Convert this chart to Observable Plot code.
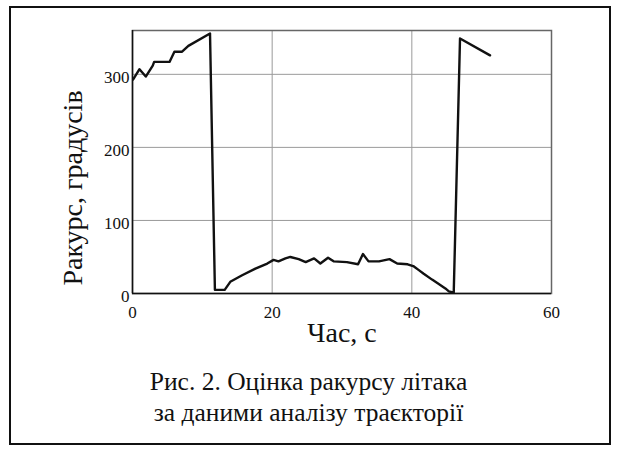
<!DOCTYPE html>
<html>
<head>
<meta charset="utf-8">
<script src="https://cdn.jsdelivr.net/npm/d3@7"></script>
<script src="https://cdn.jsdelivr.net/npm/@observablehq/plot@0.6"></script>
<style>
  html, body { margin: 0; padding: 0; background: #fff; }
  body { width: 617px; height: 453px; position: relative; overflow: hidden; font-family: "Liberation Serif", "Times New Roman", serif; }
  #frame { position: absolute; left: 9px; top: 6px; width: 602px; height: 439px; border: 2px solid #111; box-sizing: border-box; }
  #chart { position: absolute; left: 0; top: 0; }
  #caption { position: absolute; left: 0; width: 617px; top: 366px; text-align: center; font-size: 25.5px; line-height: 31px; color: #111; }
</style>
</head>
<body>
<div id="frame"></div>
<div id="chart"></div>
<div id="caption">Рис. 2. Оцінка ракурсу літака<br>за даними аналізу траєкторії</div>
<script>
const time   = [0.1, 1.0, 1.9, 2.9, 3.1, 5.3, 6.0, 7.1, 8.0, 11.1, 11.8, 13.2, 14.0, 15.7, 17.6, 19.3, 20.2, 20.9, 21.9, 22.6, 23.8, 24.8, 26.0, 26.9, 28.0, 28.8, 30.7, 32.3, 33.0, 33.8, 35.3, 36.8, 37.9, 39.4, 40.3, 41.0, 41.7, 42.9, 43.7, 44.8, 45.3, 46.0, 46.9, 51.2];
const angle  = [293, 307, 297, 312, 317, 317, 331, 331, 339, 356, 5, 5, 16, 25, 34, 41, 46, 44, 48, 50, 47, 43, 48, 41, 49, 44, 43, 40, 54, 44, 44, 47, 41, 40, 37, 32, 27, 19, 14, 7, 3, 1, 349, 326];
const xTicks = [0, 20, 40, 60];
const yTicks = [0, 100, 200, 300];
const xLabel = "Час, с";
const yLabel = "Ракурс, градусів";

const data = time.map((t, i) => ({t, v: angle[i]}));
const font = "Liberation Serif";

const chart = Plot.plot({
  width: 617,
  height: 360,
  marginLeft: 132,
  marginRight: 66,
  marginTop: 30,
  marginBottom: 67,
  style: {fontFamily: font, background: "transparent", color: "#111"},
  x: {domain: [0, 60]},
  y: {domain: [0, 360]},
  marks: [
    Plot.gridX([20, 40], {stroke: "#9a9a9a", strokeOpacity: 1}),
    Plot.gridY([100, 200, 300], {stroke: "#9a9a9a", strokeOpacity: 1}),
    Plot.frame({stroke: "#666", strokeWidth: 1.5}),
    Plot.ruleX([0], {stroke: "#111", strokeWidth: 1.5}),
    Plot.ruleY([0], {stroke: "#111", strokeWidth: 1.5}),
    Plot.axisX(xTicks, {tickSize: 0, tickPadding: 12, fontSize: 17, fontFamily: font, label: null, fill: "#111"}),
    Plot.axisY(yTicks, {tickSize: 0, tickPadding: 3, fontSize: 17, fontFamily: font, label: null, fill: "#111", dy: 3}),
    Plot.line(data, {x: "t", y: "v", stroke: "#111", strokeWidth: 2.4, strokeLinejoin: "round"}),
    Plot.text([xLabel], {frameAnchor: "bottom", dy: 48, fontSize: 28, fontFamily: font, fill: "#111"}),
    Plot.text([yLabel], {frameAnchor: "left", textAnchor: "middle", rotate: -90, dx: -59, dy: 26, fontSize: 28, fontFamily: font, fill: "#111"})
  ]
});
document.getElementById("chart").append(chart);
</script>
</body>
</html>
